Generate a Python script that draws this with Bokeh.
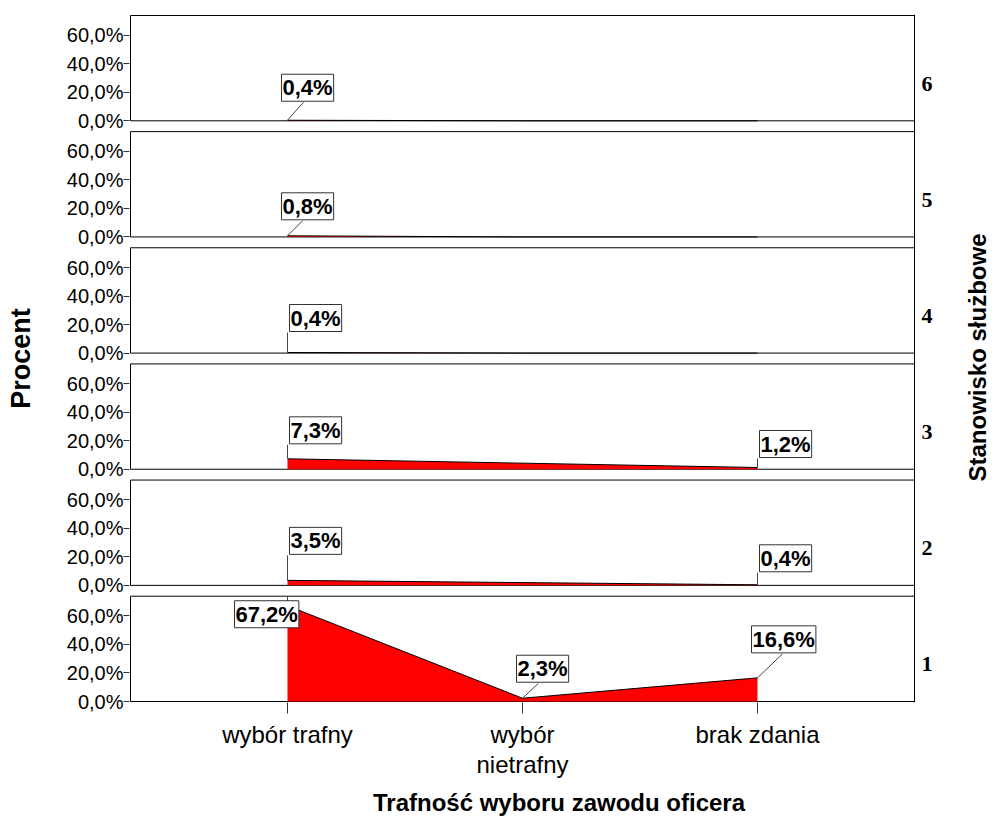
import math
from bokeh.plotting import figure
from bokeh.models import Range1d, FixedTicker, Label, Span
from bokeh.core.properties import value
from bokeh.embed import file_html
from bokeh.resources import INLINE

# ---------------- data ----------------
categories = ["wybór trafny", "wybór\nnietrafny", "brak zdania"]
panel_names = ["1", "2", "3", "4", "5", "6"]
pct_1 = [67.2, 2.3, 16.6]
pct_2 = [3.5, None, 0.4]
pct_3 = [7.3, None, 1.2]
pct_4 = [0.4, 0.0, 0.0]
pct_5 = [0.8, 0.0, 0.0]
pct_6 = [0.4, 0.0, 0.0]
series = [pct_1, pct_2, pct_3, pct_4, pct_5, pct_6]
y_ticks = [0, 20, 40, 60]
y_tick_labels = ["0,0%", "20,0%", "40,0%", "60,0%"]
x_title = "Trafność wyboru zawodu oficera"
y_title = "Procent"
panel_title = "Stanowisko służbowe"

# ---------------- layout / style ----------------
FONT = "Liberation Sans"
RED = "#FF0000"
PL, PR, PT, PB = 130, 914, 15, 701          # panel block edges on the page (px)
FL, FR, FT, FB = 129, 988, 14, 702          # plotting frame edges on the page (px)
X_LO, X_HI = 0.332, 3.668
PXX = (PR - PL) / (X_HI - X_LO)
YMAX = 73.9
PERIOD = 81.5
Y_TOP = 5 * PERIOD + YMAX
PXY = (PB - PT) / Y_TOP
PANEL_LABEL_Y = 26.0

# label box offsets (px) relative to the data point: (box dx, box dy, leader dx, leader dy)
label_pos = {
    (0, 0): (-55, -23, 0, 9),
    (0, 1): (-8, 15, 16, 15),
    (0, 2): (-8, 24, 25, 24),
    (1, 0): (0, 25, 0, 25),
    (1, 2): (0, 12, 0, 12),
    (2, 0): (0, 14, 0, 14),
    (2, 2): (0, 9, 0, 9),
    (3, 0): (0, 20, 0, 20),
    (4, 0): (-8, 15, 15, 15),
    (5, 0): (-8, 18, 16, 18),
}

def px_to_x(px):
    return X_LO + (px - PL) / PXX

def py_to_y(py):
    return (PB - py) / PXY

p = figure(
    frame_width=FR - FL, frame_height=FB - FT,
    x_range=Range1d(px_to_x(FL), px_to_x(FR)),
    y_range=Range1d(py_to_y(FB), py_to_y(FT)),
    output_backend="svg", toolbar_location=None,
    min_border_left=FL, min_border_right=8, min_border_top=FT, min_border_bottom=124,
    outline_line_color=None, background_fill_color="white", border_fill_color="white",
)
p.xgrid.visible = False
p.ygrid.visible = False

# left axis
lt = [k * PERIOD + t for k in range(6) for t in y_ticks]
ll = {k * PERIOD + t: lab for k in range(6) for t, lab in zip(y_ticks, y_tick_labels)}
p.yaxis.ticker = FixedTicker(ticks=lt)
p.yaxis.major_label_overrides = ll
p.yaxis.axis_line_color = None
p.yaxis.major_tick_in = 0
p.yaxis.major_tick_out = 6
p.yaxis.major_tick_line_color = "#333333"
p.yaxis.minor_tick_line_color = None
p.yaxis.major_label_standoff = 0
p.yaxis.major_label_text_font = FONT
p.yaxis.major_label_text_font_size = "20px"
p.yaxis.major_label_text_color = "black"
p.yaxis.axis_label = y_title
p.yaxis.axis_label_text_font = FONT
p.yaxis.axis_label_text_font_size = "27px"
p.yaxis.axis_label_text_font_style = "bold"
p.yaxis.axis_label_text_color = "black"
p.yaxis.axis_label_standoff = 28

# bottom axis
p.xaxis.ticker = FixedTicker(ticks=[1, 2, 3])
p.xaxis.major_label_overrides = {i + 1: c for i, c in enumerate(categories)}
p.xaxis.axis_line_color = None
p.xaxis.major_tick_in = 0
p.xaxis.major_tick_out = 11
p.xaxis.major_tick_line_color = "#333333"
p.xaxis.minor_tick_line_color = None
p.xaxis.major_label_standoff = 7
p.xaxis.major_label_text_font = FONT
p.xaxis.major_label_text_font_size = "24px"
p.xaxis.major_label_text_color = "black"
p.xaxis.major_label_text_line_height = 1.12
p.xaxis.axis_label = x_title
p.xaxis.axis_label_text_font = FONT
p.xaxis.axis_label_text_font_size = "24px"
p.xaxis.axis_label_text_font_style = "bold"
p.xaxis.axis_label_text_color = "black"
p.xaxis.axis_label_standoff = 8

# panel frames
bases = [k * PERIOD for k in range(6)]
p.quad(left=[X_LO] * 6, right=[X_HI] * 6, bottom=bases, top=[b + YMAX for b in bases],
       fill_color=None, line_color="black", line_width=1)
p.add_layout(Span(location=X_HI, dimension="height", line_color="black", line_width=1))

# areas
for k, vals in enumerate(series):
    xs = [i + 1 for i, v in enumerate(vals) if v is not None]
    ys = [bases[k] + v for v in vals if v is not None]
    p.varea(x=xs, y1=[bases[k]] * len(xs), y2=ys, fill_color=RED)
    p.line(xs, ys, line_color="black", line_width=1)

# labels and leaders
for k, vals in enumerate(series):
    for i, v in enumerate(vals):
        if not v:
            continue
        x, y = i + 1, bases[k] + v
        bdx, bdy, ldx, ldy = label_pos[(k, i)]
        p.segment(x0=[x], y0=[y], x1=[x + ldx / PXX], y1=[y + ldy / PXY],
                  line_color="#444444", line_width=1)
        txt = f"{v:.1f}".replace(".", ",") + "%"
        p.add_layout(Label(
            x=x, y=y, x_offset=bdx + 2, y_offset=bdy + 1, text=txt,
            text_font=FONT, text_font_size="22px", text_font_style="bold",
            text_color="black", text_align="left", text_baseline="bottom",
            background_fill_color="white", border_line_color="#333333",
            border_line_width=1, padding=1,
        ))

# panel names on the right
p.text(x=[px_to_x(921)] * 6, y=[b + PANEL_LABEL_Y for b in bases], text=panel_names,
       text_font=value("Liberation Serif"), text_font_style="bold", text_font_size="22px",
       text_align="left", text_baseline="middle", text_color="black")

# right title
p.add_layout(Label(x=px_to_x(977), y=py_to_y(357), text=panel_title, angle=math.pi / 2,
                   text_font=FONT, text_font_size="24px", text_font_style="bold",
                   text_align="center", text_baseline="middle", text_color="black"))

open("out.html", "w").write(file_html(p, INLINE))
